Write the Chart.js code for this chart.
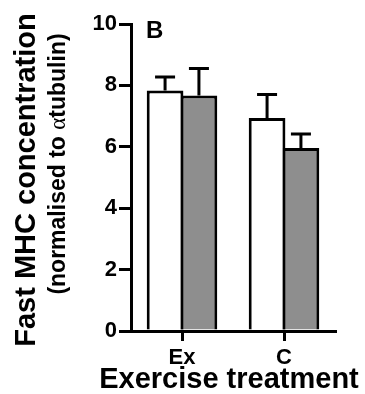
<!DOCTYPE html>
<html>
<head>
<meta charset="utf-8">
<script src="https://cdn.jsdelivr.net/npm/chart.js@4/dist/chart.umd.min.js"></script>
<style>
  html, body { margin: 0; padding: 0; background: #ffffff; }
  canvas { display: block; }
</style>
</head>
<body>
<canvas id="chart" width="365" height="394"></canvas>
<script>
// Fast MHC concentration by exercise treatment (mean + SEM)
const categories = ['Ex', 'C'];
const whiteMeans = [7.83, 6.94];
const whiteSEM = [0.44, 0.76];
const greyMeans = [7.67, 5.96];
const greySEM = [0.88, 0.46];
const yTicks = [0, 2, 4, 6, 8, 10];

const FONT = '"Liberation Sans", Arial, Helvetica, sans-serif';
const errors = [whiteSEM, greySEM];

// upper-only error bars with caps
const errorBars = {
  id: 'errorBars',
  afterDatasetsDraw(chart) {
    const ctx = chart.ctx;
    const y = chart.scales.y;
    ctx.save();
    ctx.strokeStyle = '#000';
    ctx.lineWidth = 3;
    chart.data.datasets.forEach((ds, i) => {
      const meta = chart.getDatasetMeta(i);
      meta.data.forEach((bar, j) => {
        const top = y.getPixelForValue(ds.data[j] + errors[i][j]);
        ctx.beginPath();
        ctx.moveTo(bar.x, bar.y);
        ctx.lineTo(bar.x, top);
        ctx.moveTo(bar.x - 10, top);
        ctx.lineTo(bar.x + 10, top);
        ctx.stroke();
      });
    });
    ctx.restore();
  }
};

// axis titles and panel letter
const titles = {
  id: 'titles',
  afterDraw(chart) {
    const ctx = chart.ctx;
    ctx.save();
    ctx.fillStyle = '#000';
    ctx.textBaseline = 'alphabetic';

    // panel letter
    ctx.textAlign = 'left';
    ctx.font = 'bold 24px ' + FONT;
    ctx.fillText('B', 146, 38);

    // x title
    ctx.textAlign = 'center';
    ctx.font = 'bold 29px ' + FONT;
    ctx.fillText('Exercise treatment', 229, 388);

    // y title, first line
    ctx.save();
    ctx.translate(35, 180);
    ctx.rotate(-Math.PI / 2);
    ctx.textAlign = 'center';
    ctx.font = 'bold 29px ' + FONT;
    ctx.fillText('Fast MHC concentration', 0, 0);
    ctx.restore();

    // y title, second line with a serif alpha
    const parts = [
      { t: '(normalised to ', f: 'bold 23px ' + FONT },
      { t: '\u03B1', f: '23px "Liberation Serif", "DejaVu Serif", serif' },
      { t: 'tubulin)', f: 'bold 23px ' + FONT }
    ];
    let total = 0;
    parts.forEach(p => { ctx.font = p.f; p.w = ctx.measureText(p.t).width; total += p.w; });
    ctx.save();
    ctx.translate(65, 164);
    ctx.rotate(-Math.PI / 2);
    ctx.textAlign = 'left';
    let x = -total / 2;
    parts.forEach(p => { ctx.font = p.f; ctx.fillText(p.t, x, 0); x += p.w; });
    ctx.restore();

    ctx.restore();
  }
};

new Chart(document.getElementById('chart'), {
  type: 'bar',
  data: {
    labels: categories,
    datasets: [
      {
        data: whiteMeans,
        backgroundColor: '#ffffff',
        borderColor: '#000000',
        borderWidth: 3,
        categoryPercentage: 0.664,
        barPercentage: 1.084
      },
      {
        data: greyMeans,
        backgroundColor: '#8e8e8e',
        borderColor: '#000000',
        borderWidth: 3,
        categoryPercentage: 0.664,
        barPercentage: 1.084
      }
    ]
  },
  options: {
    responsive: false,
    animation: false,
    devicePixelRatio: 1,
    layout: { padding: { top: 24, right: 30, left: 0, bottom: 0 } },
    plugins: {
      legend: { display: false },
      tooltip: { enabled: false }
    },
    scales: {
      x: {
        grid: {
          display: true,
          drawOnChartArea: false,
          drawTicks: true,
          offset: false,
          tickLength: 10,
          lineWidth: 3,
          tickWidth: 3,
          color: '#000',
          tickColor: '#000'
        },
        border: { display: true, color: '#000', width: 3, z: 1 },
        ticks: {
          color: '#000',
          padding: 4,
          font: { family: FONT, size: 22, weight: 'bold' }
        },
        afterFit(scale) { scale.height = 63; }
      },
      y: {
        min: 0,
        max: 10,
        afterBuildTicks(scale) { scale.ticks = yTicks.map(v => ({ value: v })); },
        grid: {
          display: true,
          drawOnChartArea: false,
          drawTicks: true,
          tickLength: 12,
          lineWidth: 3,
          tickWidth: 3,
          color: '#000',
          tickColor: '#000'
        },
        border: { display: true, color: '#000', width: 3, z: 1 },
        ticks: {
          color: '#000',
          padding: 2,
          font: { family: FONT, size: 22, weight: 'bold' }
        },
        afterFit(scale) { scale.width = 131; }
      }
    }
  },
  plugins: [errorBars, titles]
});
</script>
</body>
</html>
